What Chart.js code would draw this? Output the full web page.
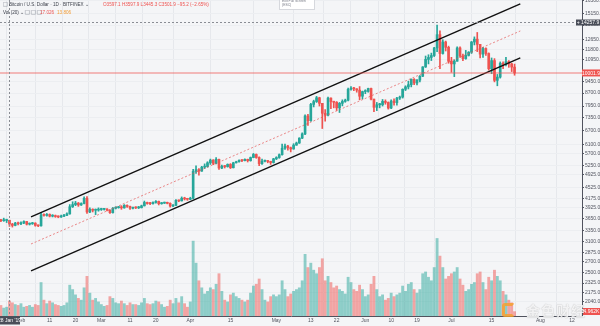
<!DOCTYPE html>
<html>
<head>
<meta charset="utf-8">
<script src="https://cdn.jsdelivr.net/npm/chart.js@4.4.1/dist/chart.umd.min.js"></script>
<style>
  html, body { margin: 0; padding: 0; background: #f4f5f7; }
  #wrap { position: relative; width: 600px; height: 326px; overflow: hidden; background: #f4f5f7; }
  #chart { position: absolute; left: 0; top: 0; }
  .t { position: absolute; font-family: 'Liberation Sans', Arial, sans-serif; font-size: 10px; transform: scale(0.46); transform-origin: 0 0; white-space: nowrap; color: #3b3f4a; }
  .red { color: #ef5350; }
  .orange { color: #f39c34; }
  .ico { display: inline-block; width: 8px; height: 8px; border: 1px solid #8a8e99; border-radius: 1px; margin-right: 3px; vertical-align: -1px; }
  .tip { position: absolute; left: 279px; top: -3px; width: 34px; height: 11px; background: #fff; border: 1px solid #d6d8dd; }
  .mark { position: absolute; font-family: 'Noto Sans CJK SC', sans-serif; font-size: 14px; font-weight: bold; color: rgba(255,255,255,0.85); text-shadow: 0 0 1px rgba(0,0,0,0.35); letter-spacing: 1px; }
  .logo { position: absolute; left: 502px; top: 303px; width: 13px; height: 14px; border: 3px solid rgba(245,160,40,0.8); border-right-color: transparent; border-radius: 3px; box-sizing: border-box; }
</style>
</head>
<body>
<div id="wrap">
  <canvas id="chart" width="600" height="326"></canvas>

  <div class="t" style="left:3px;top:2px"><span class="ico"></span>Bitcoin / U.S. Dollar · 1D · BITFINEX ⌄</div>
  <div class="t red" style="left:103px;top:2px">O3597.1 H3597.9 L3445.3 C3501.9 −95.2 (−2.65%)</div>
  <div class="t" style="left:3px;top:10px">Vol (20) ⌄ <span class="ico"></span><span class="ico"></span><span class="ico"></span></div>
  <div class="t red" style="left:40px;top:10px">17.026</div>
  <div class="t orange" style="left:57px;top:10px">13.806</div>

  <div class="tip"></div>
  <div class="t" style="left:282px;top:-1px;color:#787b86;transform:scale(0.34)">Exit Full Screen<br>(ESC)</div>

  <div class="logo"></div>
  <div class="mark" style="left:526px;top:300px">金色财经</div>
</div>

<script>
// daily BTC/USD candles, 25 Jan 2019 -> 23 Jul 2019 (day 0 = 28 Jan)
const day_offset = -3;
const first_open = 3600;

const closes = [
  3585, 3590, 3597.1, 3501.9, 3470, 3525, 3510,
  3530, 3565, 3500, 3510, 3525, 3470, 3460, 3735, 3720, 3745, 3700, 3715, 3690, 3680, 3700, 3720, 3760, 3950, 4010, 4050, 4000, 4040, 4190, 3810, 3880, 3855, 3860, 3875,
  3880, 3885, 3860, 3790, 3910, 3925, 3935, 3920, 3990, 3960, 3910, 3925, 3920, 3925, 3975, 4070, 4040, 4035, 4070, 4100, 4035, 4050, 4060, 4045, 3970, 3990, 4130, 4115, 4190, 4170, 4160,
  4190, 5050, 5110, 5060, 5200, 5220, 5360, 5460, 5340, 5490, 5170, 5230, 5220, 5300, 5180, 5360, 5400, 5450, 5440, 5490, 5440, 5560, 5680, 5560, 5330, 5420, 5430, 5410, 5370, 5510,
  5560, 5670, 5930, 6020, 5950, 5900, 6060, 6150, 6360, 6550, 7420, 7180, 8040, 8200, 8420, 8100, 7560, 7460, 8400, 8200, 8160, 7850, 8100, 8210, 8280, 8930, 9000, 8960, 8880, 8510, 8790,
  8800, 8980, 8340, 7880, 8020, 8020, 8210, 8150, 7840, 8230, 8140, 8400, 8460, 8930, 9080, 9220, 9570, 9330, 9520, 9780, 10430, 10990, 11140, 11290, 11900, 13050, 11450, 12400, 11950, 10850,
  10650, 10850, 11900, 11250, 11050, 11300, 11550, 12400, 12650, 12200, 11400, 11850, 11450, 10300, 10900, 9500, 9720, 10700, 10600, 10820, 10650, 10420, 10001.9
];
const highs = [
  3620, 3650, 3625, 3597.9, 3520, 3545, 3550,
  3555, 3580, 3570, 3530, 3545, 3535, 3480, 3790, 3760, 3770, 3760, 3740, 3730, 3710, 3730, 3745, 3790, 4010, 4090, 4100, 4070, 4060, 4230, 4240, 3920, 3895, 3890, 3920,
  3910, 3900, 3900, 3870, 3930, 3950, 3960, 3980, 4010, 4000, 3970, 3940, 3950, 3960, 3995, 4110, 4080, 4070, 4090, 4120, 4110, 4070, 4080, 4080, 4060, 4010, 4150, 4140, 4230, 4220, 4190,
  4220, 5120, 5250, 5150, 5230, 5320, 5400, 5500, 5480, 5560, 5500, 5280, 5260, 5320, 5330, 5380, 5420, 5470, 5480, 5510, 5500, 5580, 5720, 5700, 5590, 5500, 5460, 5440, 5420, 5530,
  5590, 5700, 6100, 6100, 6050, 5980, 6120, 6190, 6380, 6600, 7480, 7500, 8100, 8280, 8500, 8450, 8100, 7760, 8460, 8420, 8220, 8200, 8150, 8300, 8340, 9000, 9100, 9050, 8970, 9100, 8820,
  8900, 9000, 9000, 8350, 8150, 8100, 8320, 8300, 8180, 8300, 8360, 8450, 8520, 8960, 9150, 9450, 9600, 9620, 9560, 9820, 10450, 11250, 11350, 11480, 11950, 13950, 13400, 12600, 12480, 12050,
  11150, 10950, 12000, 12000, 11400, 11700, 11600, 12450, 12850, 13250, 12200, 11950, 11900, 11500, 11100, 11050, 9900, 10800, 10800, 11150, 10900, 10700, 10637.9
];
const lows = [
  3560, 3570, 3540, 3445.3, 3430, 3460, 3480,
  3490, 3510, 3480, 3480, 3495, 3450, 3440, 3450, 3700, 3700, 3680, 3680, 3670, 3660, 3670, 3690, 3710, 3750, 3930, 3980, 3960, 3985, 4030, 3770, 3790, 3810, 3740, 3830,
  3850, 3860, 3840, 3770, 3780, 3890, 3910, 3880, 3910, 3930, 3880, 3890, 3900, 3900, 3915, 3970, 4020, 4010, 4020, 4050, 4000, 4020, 4040, 4030, 3940, 3950, 3980, 4090, 4110, 4140, 4130,
  4150, 4170, 4980, 4920, 5050, 5150, 5200, 5300, 5290, 5320, 5120, 5150, 5170, 5200, 5150, 5170, 5350, 5380, 5400, 5430, 5390, 5420, 5550, 5530, 5250, 5300, 5390, 5360, 5300, 5350,
  5480, 5530, 5650, 5880, 5850, 5780, 5890, 6050, 6130, 6340, 6520, 6950, 7150, 7900, 8150, 7950, 6800, 7160, 7420, 7800, 7850, 7710, 7600, 7960, 8160, 8240, 8870, 8850, 8750, 8300, 8350,
  8660, 8750, 8300, 7650, 7700, 7850, 7950, 8050, 7780, 7800, 8000, 8000, 8320, 8400, 8850, 8950, 9080, 9220, 9200, 9400, 9750, 10390, 10650, 10900, 11210, 11600, 10300, 11400, 11650, 10700,
  10050, 9750, 10850, 11150, 10900, 11000, 11250, 11450, 12150, 11600, 11100, 11150, 11300, 10200, 9950, 9400, 9150, 9650, 10300, 10500, 10400, 10100, 9845.2
];
// volume, thousands
const volumes = [
  12, 9, 10, 17.026, 15, 13, 12,
  14, 10, 11, 12, 10, 13, 12, 38, 18, 14, 17, 15, 13, 12, 11, 12, 15, 35, 30, 24, 20, 18, 32, 45, 26, 18, 20, 16,
  13, 11, 12, 22, 20, 15, 14, 17, 14, 12, 15, 13, 13, 12, 15, 20, 14, 13, 14, 17, 16, 13, 10, 11, 18, 14, 20, 15, 22, 14, 10,
  16, 85, 60, 40, 32, 25, 28, 32, 30, 36, 48, 28, 18, 16, 24, 26, 22, 20, 18, 16, 18, 26, 34, 36, 42, 30, 18, 16, 22, 24,
  22, 24, 40, 30, 22, 25, 28, 30, 32, 40, 70, 55, 60, 52, 48, 55, 65, 40, 45, 38, 32, 34, 30, 28, 25, 44, 38, 30, 28, 35, 30,
  22, 24, 36, 45, 30, 22, 24, 18, 20, 26, 22, 24, 26, 34, 28, 36, 38, 30, 26, 30, 48, 50, 44, 40, 55, 88, 68, 55, 42, 45,
  48, 50, 55, 42, 35, 28, 30, 36, 38, 48, 50, 38, 30, 44, 40, 52, 45, 40, 28, 24, 18, 15, 4.962
];

const x_tick_days = [4, 14, 23, 32, 42, 51, 63, 77, 93, 105, 114, 124, 133, 142, 154, 168, 185, 196];
const x_tick_labels = ['Feb', '11', '20', 'Mar', '11', '20', 'Apr', '15', 'May', '13', '22', 'Jun', '10', '19', 'Jul', '15', 'Aug', '12'];
const y_ticks = [16500, 15150, 13950, 12650, 11800, 10950, 9450, 8700, 7950, 7350, 6700, 6100, 5700, 5250, 4925, 4525, 4175, 3925, 3650, 3350, 3100, 2875, 2700, 2500, 2325, 2175, 2040];

// parallel channel drawn on the chart
const channel_days = [7.5, 178];
const channel_upper = [3680, 16150];
const channel_mid = [3050, 13390];
const channel_lower = [2530, 11100];

const crosshair_day = 0;
const crosshair_label = "28 Jan '19";
const crosshair_price = 14257.9;

const up_color = '#26a69a';
const down_color = '#ef5350';

const opens = closes.map((c, i) => i === 0 ? first_open : closes[i - 1]);
const days = closes.map((c, i) => i + day_offset);
const is_up = closes.map((c, i) => c >= opens[i]);

const draw_tag = (ctx, x, y, w, h, bg, text) => {
    ctx.fillStyle = bg;
    ctx.fillRect(x, y - h / 2, w, h);
    ctx.fillStyle = '#fff';
    ctx.font = '5px "Liberation Sans", Arial, sans-serif';
    ctx.textBaseline = 'middle';
    ctx.textAlign = 'center';
    ctx.fillText(text, x + w / 2, y + 0.3);
}

const overlay_plugin = {
    id: 'overlay',
    afterDatasetsDraw(chart) {
        // last price line
        const ctx = chart.ctx;
        const area = chart.chartArea;
        const y = Math.round(chart.scales.y.getPixelForValue(closes[closes.length - 1]));
        ctx.save();
        ctx.globalAlpha = 0.75;
        ctx.fillStyle = '#ef5350';
        ctx.fillRect(area.left, y - 0.5, area.right - area.left, 1);
        ctx.restore();
    },
    afterDraw(chart) {
        const ctx = chart.ctx;
        const area = chart.chartArea;
        const xs = chart.scales.x;
        const ys = chart.scales.y;
        const cx = Math.round(xs.getPixelForValue(crosshair_day)) + 0.5;
        const cy = Math.round(ys.getPixelForValue(crosshair_price)) + 0.5;
        ctx.save();
        ctx.strokeStyle = '#8a8d94';
        ctx.lineWidth = 1;
        ctx.setLineDash([2, 2]);
        ctx.beginPath();
        ctx.moveTo(cx, area.top);
        ctx.lineTo(cx, area.bottom);
        ctx.moveTo(area.left, cy);
        ctx.lineTo(area.right, cy);
        ctx.stroke();
        ctx.setLineDash([]);

        // price axis tags
        const last = closes[closes.length - 1];
        draw_tag(ctx, area.right, ys.getPixelForValue(last), 18, 7, '#ef5350', last.toFixed(1));
        draw_tag(ctx, area.right - 6, cy, 24, 6, '#4a4e59', '+ ' + crosshair_price.toFixed(1));
        const v = volumes[volumes.length - 1];
        draw_tag(ctx, area.right + 1, 311.5, 17, 7, '#ef5350', v.toFixed(3) + 'K');

        // time axis tag
        draw_tag(ctx, cx - 10.5, area.bottom + 4.5, 21, 8, '#4a4e59', crosshair_label);
        ctx.restore();
    }
};

const ctx = document.getElementById('chart').getContext('2d');
const chart = new Chart(ctx, {
    type: 'bar',
    data: {
        datasets: [
            {
                type: 'line',
                data: channel_days.map((d, i) => ({ x: d, y: channel_upper[i] })),
                borderColor: '#111',
                borderWidth: 1.4,
                pointRadius: 0,
                yAxisID: 'y',
                order: 1
            },
            {
                type: 'line',
                data: channel_days.map((d, i) => ({ x: d, y: channel_lower[i] })),
                borderColor: '#111',
                borderWidth: 1.4,
                pointRadius: 0,
                yAxisID: 'y',
                order: 1
            },
            {
                type: 'line',
                data: channel_days.map((d, i) => ({ x: d, y: channel_mid[i] })),
                borderColor: 'rgba(229,80,80,0.85)',
                borderWidth: 0.8,
                borderDash: [2, 2],
                pointRadius: 0,
                yAxisID: 'y',
                order: 1
            },
            {
                // candle bodies
                data: days.map((d, i) => ({ x: d, y: [opens[i], closes[i]] })),
                backgroundColor: is_up.map(u => u ? up_color : down_color),
                barThickness: 2,
                minBarLength: 1,
                grouped: false,
                yAxisID: 'y',
                order: 2
            },
            {
                // wicks
                data: days.map((d, i) => ({ x: d, y: [lows[i], highs[i]] })),
                backgroundColor: is_up.map(u => u ? up_color : down_color),
                barThickness: 1,
                grouped: false,
                yAxisID: 'y',
                order: 3
            },
            {
                data: days.map((d, i) => ({ x: d, y: volumes[i] })),
                backgroundColor: is_up.map(u => u ? 'rgba(38,166,154,0.5)' : 'rgba(239,83,80,0.5)'),
                barThickness: 2.2,
                grouped: false,
                yAxisID: 'yv',
                order: 4
            }
        ]
    },
    options: {
        responsive: false,
        devicePixelRatio: 1,
        animation: false,
        events: [],
        layout: { padding: 0 },
        plugins: { legend: { display: false }, tooltip: { enabled: false } },
        scales: {
            x: {
                type: 'linear',
                min: -3.31,
                max: 199.5,
                offset: false,
                afterBuildTicks: (axis) => { axis.ticks = x_tick_days.map(v => ({ value: v })); },
                afterFit: (axis) => { axis.height = 10; axis.paddingLeft = 0; axis.paddingRight = 0; },
                ticks: {
                    autoSkip: false,
                    maxRotation: 0,
                    padding: 2,
                    color: '#50535e',
                    font: { family: 'Liberation Sans', size: 5 },
                    callback: (value, index) => x_tick_labels[index]
                },
                grid: { color: '#e6e8ec', drawTicks: false },
                border: { display: true, color: '#50535e', width: 1 }
            },
            y: {
                type: 'logarithmic',
                position: 'right',
                min: 1850,
                max: 16600,
                bounds: 'data',
                afterBuildTicks: (axis) => { axis.ticks = y_ticks.map(v => ({ value: v })); },
                afterFit: (axis) => { axis.width = 18; axis.paddingTop = 0; axis.paddingBottom = 0; },
                ticks: {
                    autoSkip: false,
                    padding: 1,
                    color: '#50535e',
                    font: { family: 'Liberation Sans', size: 5 },
                    callback: (value) => Number(value).toFixed(1)
                },
                grid: { color: '#eceef1', tickLength: 2, tickColor: '#50535e' },
                border: { display: true, color: '#50535e', width: 1 }
            },
            yv: {
                type: 'linear',
                display: false,
                min: 0,
                max: 358.7
            }
        }
    },
    plugins: [overlay_plugin]
});
</script>
</body>
</html>
